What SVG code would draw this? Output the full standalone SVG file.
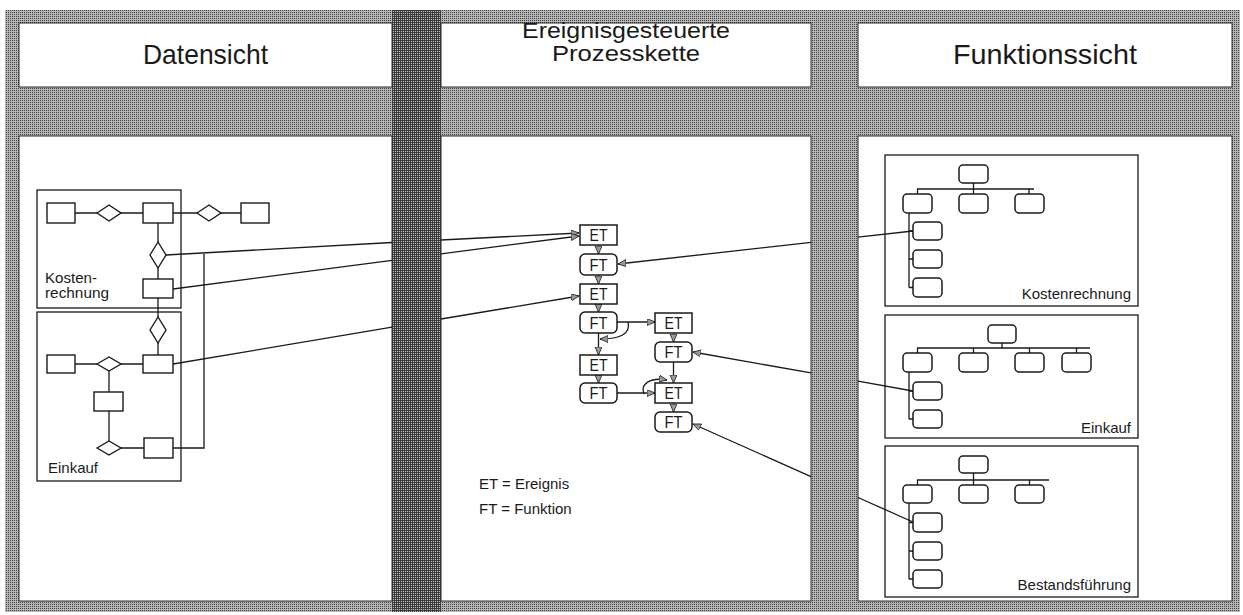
<svg xmlns="http://www.w3.org/2000/svg" width="1243" height="615" viewBox="0 0 1243 615">
<style>
.panel{fill:#ffffff;stroke:#2a2a2a;stroke-width:1}
.hdr{font-family:"Liberation Sans",Arial,sans-serif;fill:#1a1a1a;text-anchor:middle}
.lbl{font-family:"Liberation Sans",Arial,sans-serif;fill:#1a1a1a;font-size:15px}
.box{fill:none;stroke:#1a1a1a;stroke-width:1.3}
.ent{fill:#ffffff;stroke:#1a1a1a;stroke-width:1.4}
.org{fill:#ffffff;stroke:#1a1a1a;stroke-width:1.5}
.ln{fill:none;stroke:#1a1a1a;stroke-width:1.3}
.arr{fill:none;stroke:#1a1a1a;stroke-width:1.3;marker-end:url(#ah)}
.et{fill:#ffffff;stroke:#1a1a1a;stroke-width:1.5}
.bt{font-family:"Liberation Sans",Arial,sans-serif;fill:#1a1a1a;font-size:16px;text-anchor:middle}
</style>
<defs>
<pattern id="ht" width="2" height="2" patternUnits="userSpaceOnUse">
<rect width="2" height="2" fill="#b6b6b6"/>
<rect x="0" y="0" width="1" height="1" fill="#404040"/>
</pattern>
<pattern id="htd" width="2" height="2" patternUnits="userSpaceOnUse">
<rect width="2" height="2" fill="#3c3c3c"/>
<rect x="1" y="1" width="1" height="1" fill="#bdbdbd"/>
</pattern>
<marker id="ah" markerUnits="userSpaceOnUse" markerWidth="10" markerHeight="8" refX="8" refY="3.5" orient="auto">
<path d="M0,0 L8,3.5 L0,7 Z" fill="#9a9a9a" stroke="#1a1a1a" stroke-width="0.8"/>
</marker>
</defs>

<g id="background">
<rect x="5" y="10" width="1235" height="602" fill="url(#ht)"/>
<rect x="392" y="10" width="49" height="602" fill="url(#htd)"/>
</g>

<g id="headers">
<rect class="panel" x="19" y="23" width="373" height="64"/>
<rect class="panel" x="441" y="23" width="370" height="64"/>
<rect class="panel" x="858" y="23" width="374" height="64"/>
<text class="hdr" x="205.5" y="64" font-size="28" textLength="125" lengthAdjust="spacingAndGlyphs">Datensicht</text>
<text class="hdr" x="626" y="38" font-size="22" textLength="208" lengthAdjust="spacingAndGlyphs">Ereignisgesteuerte</text>
<text class="hdr" x="626" y="61" font-size="22" textLength="148" lengthAdjust="spacingAndGlyphs">Prozesskette</text>
<text class="hdr" x="1045" y="64" font-size="28" textLength="184" lengthAdjust="spacingAndGlyphs">Funktionssicht</text>
</g>

<g id="panels">
<rect class="panel" x="19" y="136" width="373" height="465"/>
<rect class="panel" x="441" y="136" width="370" height="465"/>
<rect class="panel" x="858" y="136" width="374" height="465"/>
</g>

<g id="connectors">
<path class="ln" d="M75,213 H97 M121,213 H143 M173,213 H197 M221,213 H241"/>
<path class="ln" d="M158,223 V242 M158,268 V279 M158,298 V317 M158,343 V355"/>
<path class="ln" d="M75,364 H97 M121,364 H143 M109,371 V392 M109,411 V441 M121,448 H144"/>
<path class="ln" d="M173,448 H204 V254"/>
<path class="ln" d="M166,255 L392,242.5"/>
<path class="arr" d="M441,240 L579,233"/>
<path class="ln" d="M173,289 L392,260.3"/>
<path class="arr" d="M441,253.9 L579,236"/>
<path class="ln" d="M173,364 L392,327.2"/>
<path class="arr" d="M441,319 L579,296"/>
<path class="arr" d="M598.5,245 V254"/>
<path class="arr" d="M598.5,275 V284"/>
<path class="arr" d="M598.5,304 V312"/>
<path class="arr" d="M598.5,333 V355"/>
<path class="arr" d="M598.5,375 V383"/>
<path class="arr" d="M617,322 H655"/>
<path class="arr" d="M628,322 C631,334 620,339 600,339"/>
<path class="arr" d="M673.5,333 V342"/>
<path class="arr" d="M673.5,362 V383"/>
<path class="arr" d="M673.5,403 V412"/>
<path class="arr" d="M617,393 H655"/>
<path class="arr" d="M644,394 C640,384 650,377 667,380"/>
<path class="ln" d="M913,231 L858,237.2"/>
<path class="arr" d="M811,242.4 L618,264"/>
<path class="ln" d="M913,391 L858,381.2"/>
<path class="arr" d="M811,372.9 L693,352"/>
<path class="ln" d="M913,522 L858,497.5"/>
<path class="arr" d="M811,476.6 L693,424"/>
</g>

<g id="kostenrechnung-data">
<rect class="box" x="37" y="190" width="144" height="118"/>
<rect class="ent" x="47" y="203" width="28" height="20"/>
<polygon class="ent" points="97,213 109,205 121,213 109,221"/>
<rect class="ent" x="143" y="203" width="30" height="20"/>
<polygon class="ent" points="197,213 209,205 221,213 209,221"/>
<rect class="ent" x="241" y="203" width="28" height="20"/>
<polygon class="ent" points="150,255 158,242 166,255 158,268"/>
<rect class="ent" x="143" y="279" width="30" height="19"/>
<text class="lbl" x="45" y="283" font-size="13.5" textLength="52" lengthAdjust="spacingAndGlyphs">Kosten-</text>
<text class="lbl" x="45" y="298" font-size="13.5" textLength="64" lengthAdjust="spacingAndGlyphs">rechnung</text>
</g>

<g id="einkauf-data">
<rect class="box" x="37" y="312" width="144" height="169"/>
<polygon class="ent" points="150,330 158,317 166,330 158,343"/>
<rect class="ent" x="143" y="355" width="30" height="18"/>
<rect class="ent" x="47" y="355" width="28" height="18"/>
<polygon class="ent" points="97,364 109,357 121,364 109,371"/>
<rect class="ent" x="94" y="392" width="29" height="19"/>
<polygon class="ent" points="97,448 109,441 121,448 109,455"/>
<rect class="ent" x="144" y="438" width="29" height="20"/>
<text class="lbl" x="48" y="473">Einkauf</text>
</g>

<g id="epc">
<g id="et1"><rect class="et" x="580" y="225" width="37" height="20"/><text class="bt" x="598.5" y="241" textLength="18" lengthAdjust="spacingAndGlyphs">ET</text></g>
<g id="ft1"><rect class="et" x="580" y="254" width="37" height="21" rx="5"/><text class="bt" x="598.5" y="270.5" textLength="18" lengthAdjust="spacingAndGlyphs">FT</text></g>
<g id="et2"><rect class="et" x="580" y="284" width="37" height="20"/><text class="bt" x="598.5" y="300" textLength="18" lengthAdjust="spacingAndGlyphs">ET</text></g>
<g id="ft2"><rect class="et" x="580" y="312" width="37" height="21" rx="5"/><text class="bt" x="598.5" y="328.5" textLength="18" lengthAdjust="spacingAndGlyphs">FT</text></g>
<g id="et3"><rect class="et" x="655" y="313" width="37" height="20"/><text class="bt" x="673.5" y="329" textLength="18" lengthAdjust="spacingAndGlyphs">ET</text></g>
<g id="ft3"><rect class="et" x="655" y="342" width="37" height="20" rx="5"/><text class="bt" x="673.5" y="358" textLength="18" lengthAdjust="spacingAndGlyphs">FT</text></g>
<g id="et4"><rect class="et" x="580" y="355" width="37" height="20"/><text class="bt" x="598.5" y="371" textLength="18" lengthAdjust="spacingAndGlyphs">ET</text></g>
<g id="ft4"><rect class="et" x="580" y="383" width="37" height="20" rx="5"/><text class="bt" x="598.5" y="399" textLength="18" lengthAdjust="spacingAndGlyphs">FT</text></g>
<g id="et5"><rect class="et" x="655" y="383" width="37" height="20"/><text class="bt" x="673.5" y="399" textLength="18" lengthAdjust="spacingAndGlyphs">ET</text></g>
<g id="ft5"><rect class="et" x="655" y="412" width="37" height="20" rx="5"/><text class="bt" x="673.5" y="428" textLength="18" lengthAdjust="spacingAndGlyphs">FT</text></g>
</g>

<g id="legend">
<text class="lbl" x="479" y="489" font-size="13">ET = Ereignis</text>
<text class="lbl" x="479" y="514" font-size="13">FT = Funktion</text>
</g>

<g id="kostenrechnung-func">
<rect class="box" x="885" y="155" width="253" height="151"/>
<path class="ln" d="M973.5,183 V189 M917,189 H1034 M917.5,189 V194 M973.5,189 V194 M1029,189 V194 M909,213 V287.5 M909,231 H913 M909,259 H913 M909,287.5 H913"/>
<rect class="org" x="959" y="165" width="29" height="18" rx="4"/>
<rect class="org" x="903" y="194" width="29" height="19" rx="4"/>
<rect class="org" x="959" y="194" width="29" height="19" rx="4"/>
<rect class="org" x="1015" y="194" width="29" height="19" rx="4"/>
<rect class="org" x="913" y="222" width="29" height="18" rx="4"/>
<rect class="org" x="913" y="250" width="29" height="18" rx="4"/>
<rect class="org" x="913" y="278" width="29" height="19" rx="4"/>
<text class="lbl" x="1131" y="299" font-size="16" text-anchor="end">Kostenrechnung</text>
</g>

<g id="einkauf-func">
<rect class="box" x="885" y="315" width="253" height="123"/>
<path class="ln" d="M1002,343 V348 M917,348 H1090 M917.5,348 V353 M973.5,348 V353 M1029.5,348 V353 M1076.5,348 V353 M909,372 V419 M909,391 H913 M909,419 H913"/>
<rect class="org" x="988" y="325" width="28" height="18" rx="4"/>
<rect class="org" x="903" y="353" width="29" height="19" rx="4"/>
<rect class="org" x="959" y="353" width="29" height="19" rx="4"/>
<rect class="org" x="1015" y="353" width="29" height="19" rx="4"/>
<rect class="org" x="1062" y="353" width="29" height="19" rx="4"/>
<rect class="org" x="913" y="382" width="29" height="18" rx="4"/>
<rect class="org" x="913" y="410" width="29" height="18" rx="4"/>
<text class="lbl" x="1131" y="433" font-size="16" text-anchor="end">Einkauf</text>
</g>

<g id="bestandsfuehrung-func">
<rect class="box" x="885" y="446" width="253" height="151"/>
<path class="ln" d="M973.5,473 V480 M917,480 H1049 M917.5,480 V485 M973.5,480 V485 M1029.5,480 V485 M909,503 V579 M909,522.5 H913 M909,551 H913 M909,579 H913"/>
<rect class="org" x="959" y="456" width="29" height="17" rx="4"/>
<rect class="org" x="903" y="485" width="29" height="18" rx="4"/>
<rect class="org" x="959" y="485" width="29" height="18" rx="4"/>
<rect class="org" x="1015" y="485" width="29" height="18" rx="4"/>
<rect class="org" x="913" y="513" width="29" height="19" rx="4"/>
<rect class="org" x="913" y="542" width="29" height="18" rx="4"/>
<rect class="org" x="913" y="570" width="29" height="18" rx="4"/>
<text class="lbl" x="1131" y="590" font-size="16" text-anchor="end">Bestandsführung</text>
</g>
</svg>
